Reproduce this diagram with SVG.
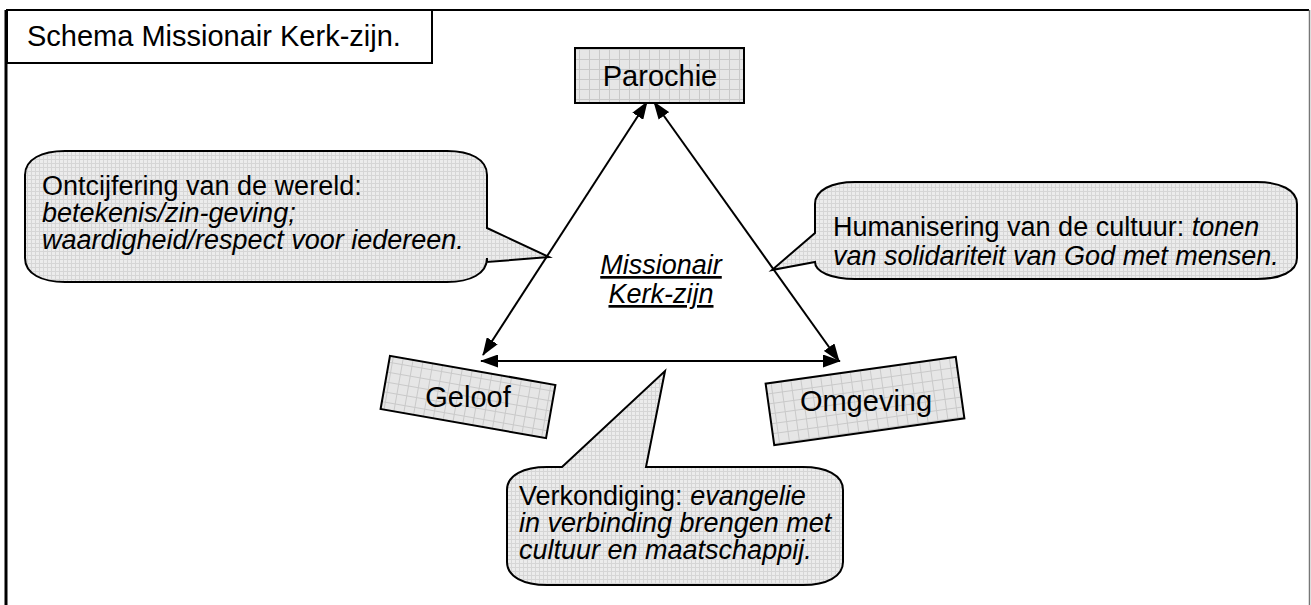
<svg xmlns="http://www.w3.org/2000/svg" width="1311" height="605" viewBox="0 0 1311 605">
<style>
text{font-family:"Liberation Sans",Arial,sans-serif;fill:#000}
.big{font-size:29px}
.cal{font-size:27px}
.it{font-style:italic}
.node{fill:url(#grid);stroke:#000;stroke-width:2}
.callout{fill:url(#fine);stroke:#000;stroke-width:2}
.conn{stroke:#000;stroke-width:2;fill:none}
</style>
<defs>
<pattern id="grid" width="10" height="10" patternUnits="userSpaceOnUse">
<rect width="10" height="10" fill="#e6e6e6"/>
<path d="M0 9.5H10M9.5 0V10" stroke="#c9c9c9" stroke-width="1"/>
</pattern>
<pattern id="fine" width="4" height="4" patternUnits="userSpaceOnUse">
<rect width="4" height="4" fill="#ececec"/>
<path d="M0 3.5H4M3.5 0V4" stroke="#d6d6d6" stroke-width="1"/>
</pattern>
<marker id="ah" viewBox="0 0 18 13" refX="17" refY="6.5" markerWidth="18" markerHeight="13" markerUnits="userSpaceOnUse" orient="auto-start-reverse">
<path d="M0 0L18 6.5L0 13Z" fill="#000"/>
</marker>
</defs>
<rect width="1311" height="605" fill="#fff"/>
<g id="frame">
<path d="M432 10H1309" stroke="#000" stroke-width="2" fill="none"/>
<path d="M1309.5 10V605" stroke="#777" stroke-width="1.5" fill="none"/>
<path d="M6 10V605" stroke="#000" stroke-width="3" fill="none"/>
</g>
<g id="title">
<rect x="7" y="10" width="425" height="53" fill="#fff" stroke="#000" stroke-width="2"/>
<text class="big" x="27" y="46">Schema Missionair Kerk-zijn.</text>
</g>
<g id="connectors">
<line class="conn" x1="647" y1="102" x2="483" y2="355" marker-start="url(#ah)" marker-end="url(#ah)"/>
<line class="conn" x1="654" y1="102" x2="839" y2="361" marker-start="url(#ah)" marker-end="url(#ah)"/>
<line class="conn" x1="481" y1="361" x2="840" y2="361" marker-start="url(#ah)" marker-end="url(#ah)"/>
</g>
<g id="parochie">
<rect class="node" x="575" y="48" width="169" height="55"/>
<text class="big" x="660" y="86" text-anchor="middle">Parochie</text>
</g>
<g id="geloof">
<rect class="node" x="-84" y="-27" width="168" height="54" transform="translate(468 397) rotate(10)"/>
<text class="big" x="468" y="407" text-anchor="middle">Geloof</text>
</g>
<g id="omgeving">
<rect class="node" x="-96" y="-31" width="192" height="62" transform="translate(865 401) rotate(-8)"/>
<text class="big" x="866" y="411" text-anchor="middle">Omgeving</text>
</g>
<g id="center">
<text class="cal it" x="661" y="274" text-anchor="middle" text-decoration="underline">Missionair</text>
<text class="cal it" x="661" y="303" text-anchor="middle" text-decoration="underline">Kerk-zijn</text>
</g>
<g id="callout-ontcijfering">
<path class="callout" d="M65 151H447C470 151 487 159 487 175V228L549 257L487 262V258C487 274 470 282 447 282H65C42 282 25 274 25 258V175C25 159 42 151 65 151Z"/>
<text class="cal" x="42" y="195">Ontcijfering van de wereld:</text>
<text class="cal it" x="42" y="222">betekenis/zin-geving;</text>
<text class="cal it" x="42" y="249">waardigheid/respect voor iedereen.</text>
</g>
<g id="callout-humanisering">
<path class="callout" d="M855 182H1257C1280 182 1297 190 1297 204V258C1297 272 1280 279 1257 279H855C832 279 815 272 815 262L772 270L815 233V204C815 190 832 182 855 182Z"/>
<text class="cal" x="833" y="236">Humanisering van de cultuur: <tspan class="it">tonen</tspan></text>
<text class="cal it" x="833" y="265">van solidariteit van God met mensen.</text>
</g>
<g id="callout-verkondiging">
<path class="callout" d="M562 467L665 371L646 467H803C826 467 843 475 843 490V562C843 577 826 585 803 585H547C524 585 507 577 507 562V490C507 475 524 467 547 467Z"/>
<text class="cal" x="519" y="505">Verkondiging: <tspan class="it">evangelie</tspan></text>
<text class="cal it" x="519" y="532">in verbinding brengen met</text>
<text class="cal it" x="519" y="559">cultuur en maatschappij.</text>
</g>
</svg>
